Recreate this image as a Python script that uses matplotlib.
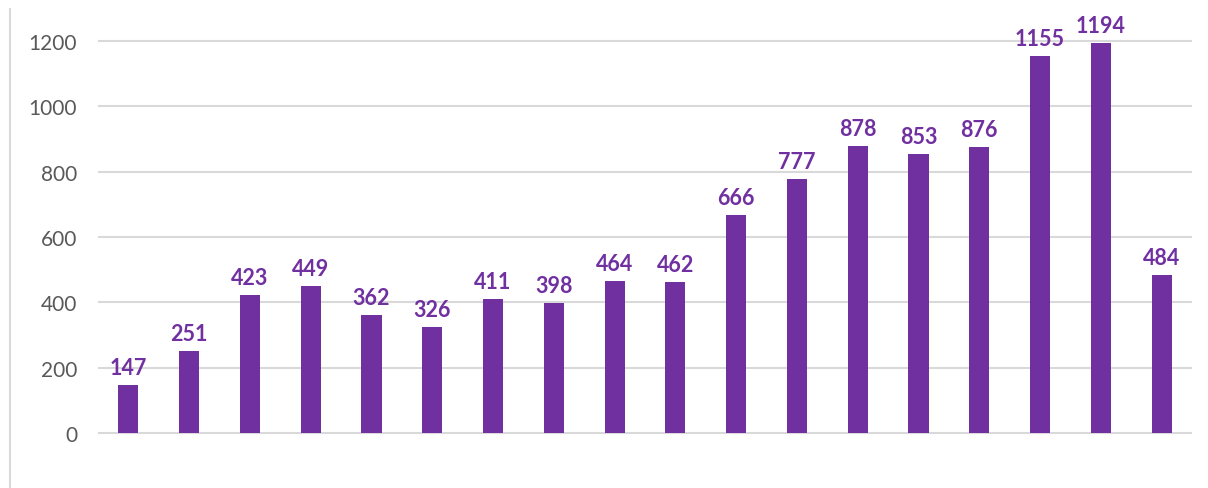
import matplotlib.pyplot as plt
from matplotlib.lines import Line2D

# values, left to right
counts = [147, 251, 423, 449, 362, 326, 411, 398, 464, 462,
          666, 777, 878, 853, 876, 1155, 1194, 484]
yticks = [0, 200, 400, 600, 800, 1000, 1200]

purple = '#7030A0'
grid_grey = '#d9d9d9'

fig = plt.figure(figsize=(12.08, 4.89), dpi=100)
ax = fig.add_axes([98 / 1208, 0, 1094 / 1208, 1])

x = range(len(counts))
ax.bar(x, counts, width=0.33, color=purple, zorder=3)

# data labels above each bar
for i, v in enumerate(counts):
    ax.annotate(str(v), (i, v), xytext=(0, 5), textcoords='offset points',
                ha='center', va='bottom', color=purple, fontsize=15.5,
                fontweight='bold', family='Lato')

ax.set_xlim(-0.5, len(counts) - 0.5)
ax.set_ylim(-168.4, 1328.6)
ax.set_yticks(yticks)
ax.set_yticklabels([str(t) for t in yticks], fontsize=15, color='#595959', family='Lato')
ax.set_xticks([])
ax.tick_params(axis='y', length=0, pad=15)
for s in ax.spines.values():
    s.set_visible(False)

# horizontal gridlines (only across the data area)
for t in yticks:
    ax.axhline(t, color=grid_grey, lw=1.5, zorder=1)

# chart-area border on the left
fig.add_artist(Line2D([10 / 1208, 10 / 1208], [0, 1 - 10 / 489],
                      transform=fig.transFigure, color=grid_grey, lw=1.5))

fig.savefig('out.png', dpi=100)
